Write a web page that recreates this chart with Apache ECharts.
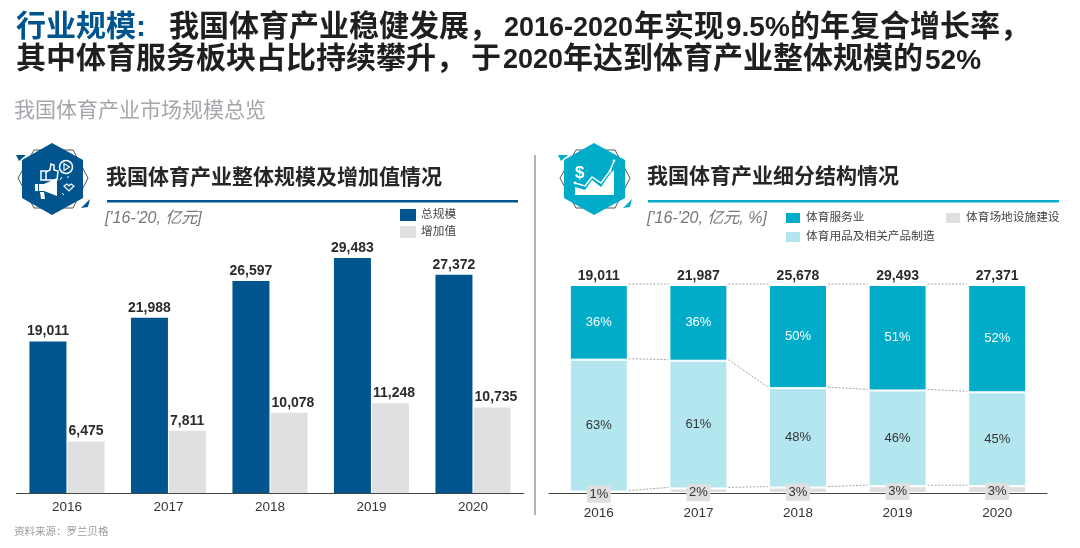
<!DOCTYPE html>
<html>
<head>
<meta charset="utf-8">
<style>html,body{margin:0;padding:0;background:#fff}#c{width:1080px;height:548px}</style>
<script src="https://cdn.jsdelivr.net/npm/echarts@6/dist/echarts.min.js"></script>
</head>
<body>
<div id="c"></div>
<script>
var years = ['2016','2017','2018','2019','2020'];
var scaleTotal = [19011,21988,26597,29483,27372];
var scaleAdded = [6475,7811,10078,11248,10735];
var structTotal = [19011,21987,25678,29493,27371];
var shareService = [35.9,36.4,49.6,50.7,51.6];
var shareGoods = [63.4,61.4,47.8,46.0,45.1];
var shareVenue = [0.7,2.2,2.6,3.3,3.3];
var levelTop = [100,100,100,100,100];

var NAVY='#00558f', GREY='#dfe0e2', TEAL='#00acc8', LIGHT='#b4e6f0', INK='#333333', HEAD='#1f1f1f';
var FONT='"Liberation Sans","Noto Sans CJK SC",sans-serif';
var fmt=function(v){return String(v).replace(/\B(?=(\d{3})+$)/g,',');};

function connectorData(){
  var out=[];
  for(var i=0;i<years.length-1;i++){
    out.push([i,100,100]);
    out.push([i,100-shareService[i],100-shareService[i+1]]);
    out.push([i,shareVenue[i],shareVenue[i+1]]);
  }
  return out;
}
function txt(x,y,s,size,color,weight,extra){
  var st={x:x,y:y,text:s,fill:color,font:(extra||'')+' '+(weight||'normal')+' '+size+'px '+FONT,textVerticalAlign:'middle'};
  return {type:'text',silent:true,style:st};
}
function poly(pts,fill,stroke,lw){
  return {type:'polygon',silent:true,shape:{points:pts},style:{fill:fill||'none',stroke:stroke||'none',lineWidth:lw||1}};
}
function pl(pts,stroke,lw){
  return {type:'polyline',silent:true,shape:{points:pts},style:{fill:'none',stroke:stroke,lineWidth:lw||1}};
}
function badge(dx,color){
  return [
    poly([[18+dx,178],[34+dx,150],[73+dx,150],[88+dx,178],[73+dx,208],[34+dx,208]],'#fff','#555',1),
    poly([[52+dx,143],[83+dx,160],[83+dx,198],[52+dx,215],[22+dx,198],[22+dx,160]],color),
    poly([[16+dx,155],[26+dx,155],[19+dx,161]],color),
    poly([[90+dx,199],[88+dx,207],[81+dx,208]],color)
  ];
}
var g=[
  txt(16,27.5,'行业规模:',30,NAVY,'bold'),
  txt(169,27.5,'我国体育产业稳健发展，',30,HEAD,'bold'),
  txt(504,28.5,'2016-2020',27,HEAD,'bold'),
  txt(634,27.5,'年实现',30,HEAD,'bold'),
  txt(726,28.5,'9.5%',28,HEAD,'bold'),
  txt(790,27.5,'的年复合增长率，',30,HEAD,'bold'),
  txt(16,60,'其中体育服务板块占比持续攀升，',30,HEAD,'bold'),
  txt(471,60,'于',30,HEAD,'bold'),
  txt(503,61,'2020',27,HEAD,'bold'),
  txt(563,60,'年达到体育产业整体规模的',30,HEAD,'bold'),
  txt(925,61,'52%',28,HEAD,'bold'),
  txt(14,111,'我国体育产业市场规模总览',21,'#a3a7ab'),
  txt(14,532,'资料来源：罗兰贝格',10.5,'#9a9a9a'),
  {type:'line',silent:true,shape:{x1:535,y1:155,x2:535,y2:515},style:{stroke:'#666',lineWidth:1}},
  {type:'rect',silent:true,shape:{x:107,y:200,width:411,height:2.5},style:{fill:NAVY}},
  {type:'rect',silent:true,shape:{x:648,y:200,width:411,height:2.5},style:{fill:TEAL}},
  txt(106,178,'我国体育产业整体规模及增加值情况',21,'#262626','bold'),
  txt(647,177,'我国体育产业细分结构情况',21,'#262626','bold'),
  txt(105,219,"['16-'20, 亿元]",16,'#777777','normal','italic'),
  txt(647,219,"['16-'20, 亿元, %]",16,'#777777','normal','italic')
].concat(badge(0,NAVY),badge(542,TEAL),[
  {type:'rect',silent:true,shape:{x:41,y:171,width:5,height:9},style:{fill:'none',stroke:'#fff',lineWidth:1.5}},
  pl([[46,172],[50,170],[51,164],[54,165],[54,170],[58,171],[57,180],[46,180]],'#fff',1.5),
  {type:'circle',silent:true,shape:{cx:66,cy:167,r:6.5},style:{fill:'none',stroke:'#fff',lineWidth:1.5}},
  poly([[64,163.5],[64,170.5],[69.5,167]],'none','#fff',1.2),
  poly([[39,184],[44,184],[57,178],[57,196],[44,191],[39,191]],'#fff'),
  {type:'rect',silent:true,shape:{x:35,y:184,width:3,height:7},style:{fill:'#fff'}},
  poly([[40,192],[44,192],[45,199],[41,199]],'#fff'),
  poly([[64,186],[67,184],[69,186],[71,184],[74,186],[69,191]],'none','#fff',1.2),
  pl([[60,180],[62,177]],'#fff',1),pl([[62,193],[64,195]],'#fff',1),pl([[68,178],[68,176]],'#fff',1),
  txt(575,173,'$',17,'#fff','bold'),
  poly([[575,195],[575,187],[585,190],[592,180],[601,187],[610,174],[614,170],[614,195]],'#fff'),
  pl([[575,183],[585,186],[592,177],[601,183],[610,171],[614,161]],'#fff',1.5),
  {type:'circle',silent:true,shape:{cx:614,cy:161,r:1.4},style:{fill:'#fff'}},
  {type:'circle',silent:true,shape:{cx:575,cy:183,r:1.4},style:{fill:'#fff'}},
  {type:'circle',silent:true,shape:{cx:610,cy:171,r:1.4},style:{fill:'#fff'}}
]);

var axisLabel={color:INK,fontSize:13.5,fontFamily:FONT,margin:8};
var valLabel={show:true,position:'top',distance:3,color:'#2b2b2b',fontSize:14,fontWeight:'bold',fontFamily:FONT};
var pct=function(p){return Math.round(p.value)+'%';};
var white={borderColor:'#fff',borderWidth:1};
var legendText={color:'#444',fontSize:11.7,fontFamily:FONT};
var legendBase={padding:0,orient:'vertical',itemWidth:16,itemHeight:12,icon:'rect',textStyle:legendText,selectedMode:false,itemGap:5};

var option={
  animation:false,
  backgroundColor:'#fff',
  textStyle:{fontFamily:FONT},
  graphic:g,
  legend:[
    Object.assign({},legendBase,{left:400,top:209,data:['总规模','增加值']}),
    Object.assign({},legendBase,{left:784,top:211,data:['体育服务业','体育用品及相关产品制造']}),
    Object.assign({},legendBase,{left:944,top:211,data:['体育场地设施建设']})
  ],
  grid:[
    {left:16.25,width:507.5,top:206,bottom:55},
    {left:549,width:498,top:285,bottom:55}
  ],
  xAxis:[
    {gridIndex:0,type:'category',data:years,axisTick:{show:false},axisLine:{lineStyle:{color:'#444',width:1}},axisLabel:axisLabel},
    {gridIndex:1,type:'category',data:years,axisTick:{show:false},axisLine:{lineStyle:{color:'#444',width:1}},axisLabel:Object.assign({},axisLabel,{margin:14})}
  ],
  yAxis:[
    {gridIndex:0,type:'value',min:0,max:36000,show:false},
    {gridIndex:1,type:'value',min:0,max:100,show:false}
  ],
  series:[
    {name:'总规模',type:'bar',xAxisIndex:0,yAxisIndex:0,data:scaleTotal,barWidth:37,barGap:'3%',itemStyle:{color:NAVY},
      label:Object.assign({},valLabel,{formatter:function(p){return fmt(p.value);}})},
    {name:'增加值',type:'bar',xAxisIndex:0,yAxisIndex:0,data:scaleAdded,barWidth:37,barGap:'3%',itemStyle:{color:GREY},
      label:Object.assign({},valLabel,{position:[1,-3],align:'left',verticalAlign:'bottom',formatter:function(p){return fmt(p.value);}})},
    {name:'体育场地设施建设',type:'bar',stack:'s',xAxisIndex:1,yAxisIndex:1,data:shareVenue,barWidth:58,z:3,itemStyle:Object.assign({color:'#dfdfdf'},white),
      label:{show:true,position:'inside',offset:[0,2],formatter:pct,color:INK,fontSize:13,fontFamily:FONT,backgroundColor:'#dfdfdf',lineHeight:15,padding:[1,2.5,1,2.5]}},
    {name:'体育用品及相关产品制造',type:'bar',stack:'s',xAxisIndex:1,yAxisIndex:1,data:shareGoods,barWidth:58,z:2,itemStyle:Object.assign({color:LIGHT},white),
      label:{show:true,position:'inside',formatter:pct,color:INK,fontSize:13,fontFamily:FONT}},
    {name:'体育服务业',type:'bar',stack:'s',xAxisIndex:1,yAxisIndex:1,data:shareService,barWidth:58,z:2,itemStyle:Object.assign({color:TEAL},white),
      label:{show:true,position:'inside',formatter:pct,color:'#fff',fontSize:13,fontFamily:FONT}},
    {name:'合计',type:'line',xAxisIndex:1,yAxisIndex:1,data:levelTop,symbol:'circle',symbolSize:0,showSymbol:true,lineStyle:{opacity:0},silent:true,z:4,
      label:{show:true,position:'top',distance:2,color:'#2b2b2b',fontSize:14,fontWeight:'bold',fontFamily:FONT,
        formatter:function(p){return fmt(structTotal[p.dataIndex]);}}},
    {name:'连接线',type:'custom',xAxisIndex:1,yAxisIndex:1,data:connectorData(),silent:true,z:1,
      clip:false,
      encode:{x:0,y:1},
      renderItem:function(params,api){
        var a=api.coord([api.value(0),api.value(1)]);
        var b=api.coord([api.value(0)+1,api.value(2)]);
        return {type:'line',shape:{x1:a[0]+30,y1:a[1]-1,x2:b[0]-30,y2:b[1]-1},
          style:{stroke:'#a6a6a6',lineWidth:1,lineDash:[2,1.5]}};
      }}
  ]
};
var chart=echarts.init(document.getElementById('c'),null,{renderer:'canvas'});
chart.setOption(option);
</script>
</body>
</html>
